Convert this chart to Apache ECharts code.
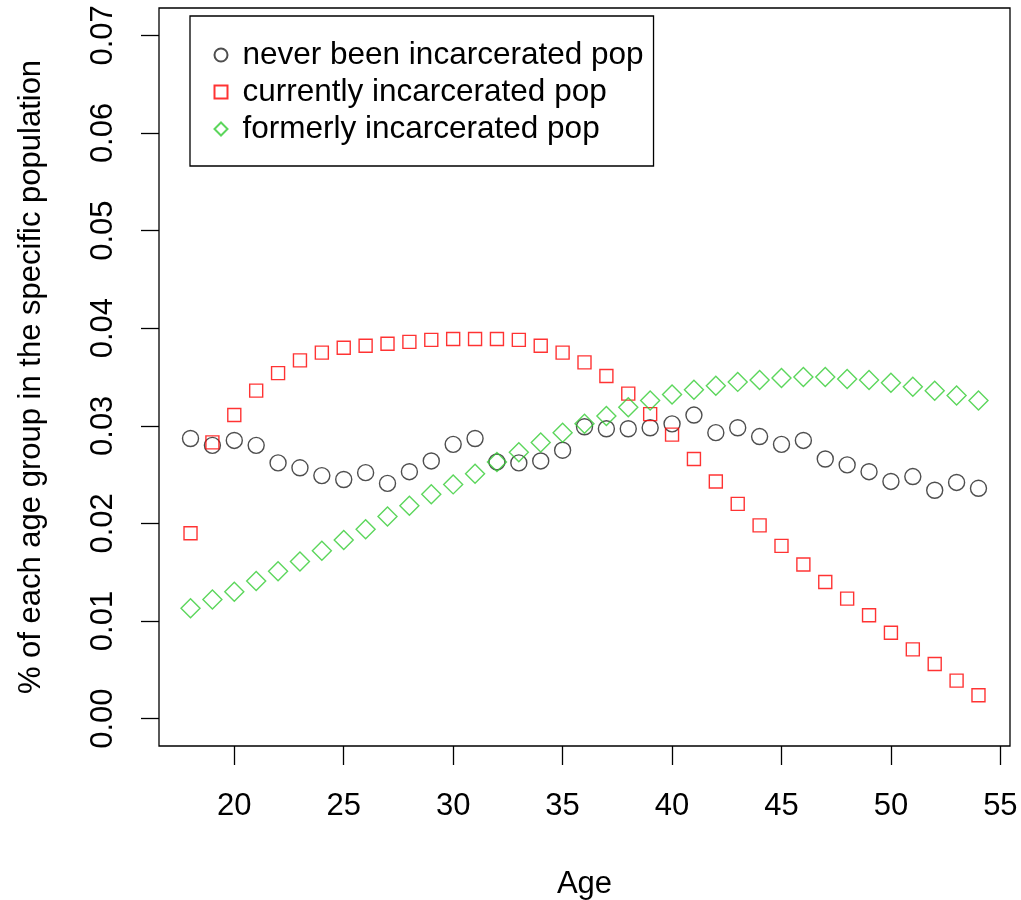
<!DOCTYPE html>
<html>
<head>
<meta charset="utf-8">
<script src="https://cdn.jsdelivr.net/npm/echarts@6/dist/echarts.min.js"></script>
<style>
  html, body { margin: 0; padding: 0; background: #fff; }
  #chart { width: 1021px; height: 900px; }
</style>
</head>
<body>
<div id="chart"></div>
<script>
var ages = [18, 19, 20, 21, 22, 23, 24, 25, 26, 27, 28, 29, 30, 31, 32, 33, 34, 35, 36,
  37, 38, 39, 40, 41, 42, 43, 44, 45, 46, 47, 48, 49, 50, 51, 52, 53, 54];

var neverPop = [0.0287, 0.0280, 0.0285, 0.0280, 0.0262, 0.0257, 0.0249, 0.0245, 0.0252, 0.0241,
  0.0253, 0.0264, 0.0281, 0.0287, 0.0263, 0.0262, 0.0264, 0.0275, 0.0299,
  0.0297, 0.0297, 0.0298, 0.0302, 0.0311, 0.0293, 0.0298, 0.0289, 0.0281, 0.0285,
  0.0266, 0.0260, 0.0253, 0.0243, 0.0248, 0.0234, 0.0242, 0.0236];

var currentPop = [0.0190, 0.0283, 0.0311, 0.0336, 0.0354, 0.0367, 0.0375, 0.0380, 0.0382, 0.0384,
  0.0386, 0.0388, 0.0389, 0.0389, 0.0389, 0.0388, 0.0382, 0.0375, 0.0365,
  0.0351, 0.0333, 0.0312, 0.0291, 0.0266, 0.0243, 0.0220, 0.0198, 0.0177, 0.0158,
  0.0140, 0.0123, 0.0106, 0.0088, 0.0071, 0.0056, 0.0039, 0.0024];

var formerPop = [0.0113, 0.0122, 0.0130, 0.0141, 0.0151, 0.0161, 0.0172, 0.0183, 0.0194, 0.0207,
  0.0218, 0.0230, 0.0240, 0.0251, 0.0263, 0.0273, 0.0283, 0.0293, 0.0302,
  0.0310, 0.0319, 0.0326, 0.0332, 0.0337, 0.0341, 0.0345, 0.0347, 0.0349, 0.0350,
  0.0350, 0.0348, 0.0347, 0.0344, 0.0340, 0.0336, 0.0331, 0.0326];

var xTicks = [20, 25, 30, 35, 40, 45, 50, 55];
var yTicks = [0, 0.01, 0.02, 0.03, 0.04, 0.05, 0.06, 0.07];

var chartDom = document.getElementById('chart');
var myChart = echarts.init(chartDom);

var font = '"Liberation Sans", Arial, sans-serif';

function pairs(values) {
  return ages.map(function (a, i) { return [a, values[i]]; });
}

var option = {
  animation: false,
  backgroundColor: '#fff',
  textStyle: { fontFamily: font },
  grid: {
    left: 159, right: 11, top: 8, bottom: 154,
    outerBoundsMode: 'none',
    show: true, borderColor: '#000', borderWidth: 1.3, backgroundColor: 'transparent'
  },
  legend: {
    orient: 'vertical',
    left: 190, top: 16,
    padding: [22, 10, 20, 22],
    borderColor: '#000', borderWidth: 1.3,
    itemWidth: 13, itemHeight: 13,
    itemGap: 3,
    textStyle: { fontSize: 31.5, color: '#000', fontFamily: font, padding: [0, 0, 0, 10], lineHeight: 34 },
    data: ['never been incarcerated pop', 'currently incarcerated pop', 'formerly incarcerated pop']
  },
  xAxis: {
    type: 'value',
    min: 16.56, max: 55.44,
    name: 'Age', nameLocation: 'middle', nameGap: 123,
    nameTextStyle: { fontSize: 31, color: '#000', fontFamily: font },
    axisLine: { show: false, onZero: false },
    splitLine: { show: false },
    axisTick: { show: true, length: 19, lineStyle: { color: '#000', width: 1.3 }, customValues: xTicks },
    axisLabel: { fontSize: 31, color: '#000', margin: 45, customValues: xTicks }
  },
  yAxis: {
    type: 'value',
    min: -0.0028, max: 0.0728,
    name: '% of each age group in the specific population', nameLocation: 'middle', nameGap: 112,
    nameRotate: 90,
    nameTextStyle: { fontSize: 31, color: '#000', fontFamily: font },
    axisLine: { show: false, onZero: false },
    splitLine: { show: false },
    axisTick: { show: true, length: 18, lineStyle: { color: '#000', width: 1.3 }, customValues: yTicks },
    axisLabel: {
      fontSize: 31, color: '#000', margin: 40, rotate: 90, customValues: yTicks,
      formatter: function (v) { return v.toFixed(2); }
    }
  },
  series: [
    {
      name: 'never been incarcerated pop',
      type: 'scatter',
      data: pairs(neverPop),
      symbol: 'circle',
      symbolSize: 16,
      itemStyle: { color: 'none', borderColor: '#222', borderWidth: 1.4 }
    },
    {
      name: 'currently incarcerated pop',
      type: 'scatter',
      data: pairs(currentPop),
      symbol: 'rect',
      symbolSize: 13,
      itemStyle: { color: 'none', borderColor: '#ff0000', borderWidth: 1.4 }
    },
    {
      name: 'formerly incarcerated pop',
      type: 'scatter',
      data: pairs(formerPop),
      symbol: 'diamond',
      symbolSize: 19,
      itemStyle: { color: 'none', borderColor: '#33cc33', borderWidth: 1.4 }
    }
  ]
};

myChart.setOption(option);
window.addEventListener('resize', () => myChart.resize());
</script>
</body>
</html>
